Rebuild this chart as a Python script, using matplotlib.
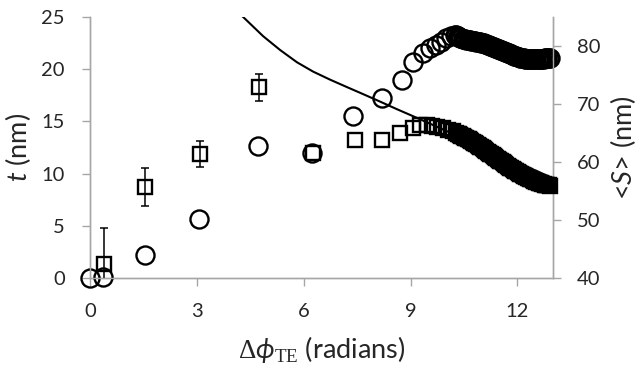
import matplotlib
matplotlib.use("Agg")
import matplotlib.pyplot as plt

plt.rcParams["font.family"] = ["Lato", "DejaVu Sans"]
plt.rcParams["mathtext.fontset"] = "custom"
plt.rcParams["mathtext.rm"] = "Liberation Serif"
plt.rcParams["mathtext.it"] = "Lato:italic"
plt.rcParams["mathtext.bf"] = "Lato:bold"
plt.rcParams["mathtext.fallback"] = "stix"

# Phase values of the densely sampled late-stage measurements
dense_phase = [10.29, 10.325, 10.36, 10.395, 10.43, 10.465, 10.5, 10.535, 10.57, 10.605,
               10.64, 10.675, 10.71, 10.745, 10.78, 10.815, 10.85, 10.885, 10.92, 10.955,
               10.99, 11.025, 11.06, 11.095, 11.13, 11.165, 11.2, 11.235, 11.27, 11.305,
               11.34, 11.375, 11.41, 11.445, 11.48, 11.515, 11.55, 11.585, 11.62, 11.655,
               11.69, 11.725, 11.76, 11.795, 11.83, 11.865, 11.9, 11.935, 11.97, 12.005,
               12.04, 12.075, 12.11, 12.145, 12.18, 12.215, 12.25, 12.285, 12.32, 12.355,
               12.39, 12.425, 12.46, 12.495, 12.53, 12.565, 12.6, 12.635, 12.67, 12.705,
               12.74, 12.775, 12.81, 12.845, 12.88, 12.915]

# Film thickness t (left axis), open circles
t_phase_early = [0.0, 0.37, 1.55, 3.07, 4.73, 6.22, 7.39, 8.2, 8.76, 9.07, 9.35, 9.55,
                 9.72, 9.86, 10.0, 10.14, 10.25]
t_early = [0.0, 0.1, 2.2, 5.65, 12.6, 12.0, 15.5, 17.2, 19.0, 20.7, 21.55, 22.0,
           22.3, 22.6, 23.0, 23.2, 23.3]
t_dense = [23.25, 23.15, 23.05, 23.0, 22.95, 22.9, 22.88, 22.85, 22.82, 22.8,
           22.78, 22.75, 22.73, 22.7, 22.68, 22.66, 22.64, 22.62, 22.6, 22.58,
           22.55, 22.52, 22.48, 22.44, 22.4, 22.35, 22.3, 22.26, 22.21, 22.16,
           22.11, 22.06, 22.01, 21.96, 21.91, 21.86, 21.81, 21.76, 21.71, 21.66,
           21.61, 21.56, 21.51, 21.46, 21.41, 21.36, 21.31, 21.27, 21.23, 21.19,
           21.15, 21.11, 21.08, 21.05, 21.03, 21.01, 20.99, 20.97, 20.96, 20.95,
           20.94, 20.93, 20.93, 20.93, 20.93, 20.94, 20.95, 20.96, 20.97, 20.99,
           21.01, 21.03, 21.05, 21.07, 21.09, 21.1]

# Mean spacing <S> (right axis), open squares
s_phase_early = [0.39, 1.55, 3.09, 4.75, 6.25, 7.44, 8.2, 8.7, 9.07, 9.27, 9.45, 9.6,
                 9.75, 9.9, 10.05, 10.18]
s_early = [42.4, 55.7, 61.4, 72.9, 61.5, 63.8, 63.8, 65.0, 65.9, 66.4, 66.4, 66.2,
           66.0, 65.8, 65.6, 65.4]
s_dense = [65.0, 64.9, 64.8, 64.7, 64.55, 64.45, 64.3, 64.2, 64.1, 64.0,
           63.9, 63.75, 63.6, 63.5, 63.35, 63.2, 63.05, 62.9, 62.8, 62.65,
           62.5, 62.35, 62.2, 62.05, 61.9, 61.75, 61.6, 61.45, 61.3, 61.15,
           61.0, 60.85, 60.7, 60.55, 60.4, 60.25, 60.1, 59.95, 59.8, 59.65,
           59.5, 59.35, 59.2, 59.05, 58.9, 58.8, 58.65, 58.5, 58.4, 58.25,
           58.1, 58.0, 57.85, 57.75, 57.6, 57.5, 57.4, 57.3, 57.2, 57.1,
           57.0, 56.9, 56.8, 56.7, 56.6, 56.55, 56.45, 56.4, 56.3, 56.25,
           56.2, 56.1, 56.05, 56.0, 55.95, 55.9]

# Error bars on the first <S> measurements
s_err_phase = [0.39, 1.55, 3.09, 4.75]
s_err_val = [42.4, 55.7, 61.4, 72.9]
s_err = [6.2, 3.2, 2.2, 2.3]

# Model curve for <S>
fit_phase = [4.30, 4.86, 5.34, 5.81, 6.26, 6.74, 7.22, 7.67, 8.15, 8.62, 9.07,
             9.55, 10.39, 11.24, 12.08, 12.92]
fit_nm = [85.0, 81.7, 79.3, 77.2, 75.6, 74.2, 72.9, 71.7, 70.4, 69.1, 67.9,
          66.6, 64.3, 62.1, 59.7, 57.4]

x_ticks = [0, 3, 6, 9, 12]
t_ticks = [0, 5, 10, 15, 20, 25]
s_ticks = [40, 50, 60, 70, 80]

spine_col = "#a6a6a6"
text_col = "#262626"

fig = plt.figure(figsize=(6.4, 3.71), dpi=100)
ax = fig.add_axes([90 / 640, 1 - 278 / 371, (553 - 90) / 640, (278 - 17) / 371])
ax2 = ax.twinx()

marker_style = dict(linestyle="none", markerfacecolor="none",
                    markeredgecolor="black", markeredgewidth=1.7, clip_on=False)

ax.plot(t_phase_early + dense_phase, t_early + t_dense, marker="o",
        markersize=13, zorder=3, **marker_style)

ax2.errorbar(s_err_phase, s_err_val, yerr=s_err, fmt="none", ecolor="black",
             elinewidth=1.1, capsize=3, capthick=1.1, zorder=2)
ax2.plot(s_phase_early + dense_phase, s_early + s_dense, marker="s",
         markersize=10.5, zorder=3, **marker_style)
ax2.plot(fit_phase, fit_nm, color="black", linewidth=1.5, zorder=4)

ax.set_xlim(0, 13)
ax.set_ylim(0, 25)
ax2.set_ylim(40, 85)
ax.set_xticks(x_ticks)
ax.set_yticks(t_ticks)
ax2.set_yticks(s_ticks)

for a in (ax, ax2):
    a.spines["top"].set_visible(False)
    for side in ("left", "right", "bottom"):
        a.spines[side].set_color(spine_col)
        a.spines[side].set_linewidth(1.0)
    a.tick_params(colors=spine_col, labelcolor=text_col, labelsize=14.5,
                  length=6, width=1.0, direction="out")
ax.tick_params(axis="x", pad=12)
ax.tick_params(axis="y", pad=12)
ax2.tick_params(axis="y", pad=11)

ax.set_xlabel(r"$\Delta\phi_{\mathrm{TE}}$ (radians)", fontsize=19.5,
              color=text_col, labelpad=10)
ax.set_ylabel(r"$t$ (nm)", fontsize=19.5, color=text_col, labelpad=6)
ax2.set_ylabel(r"<$S$> (nm)", fontsize=19.5, color=text_col, labelpad=6)

fig.savefig("out.png", dpi=100)
